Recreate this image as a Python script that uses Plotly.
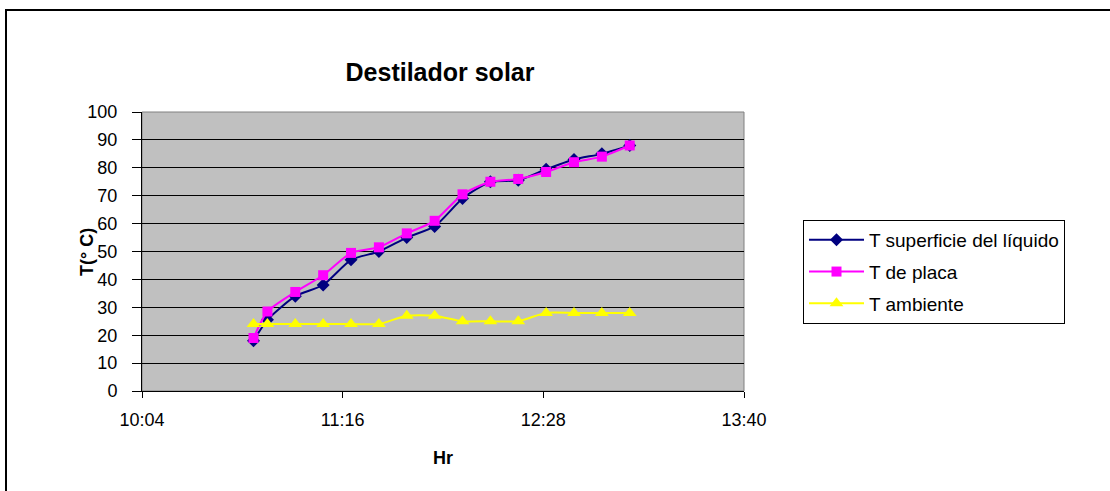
import plotly.graph_objects as go

# ---- data ----
times = ["10:44", "10:49", "10:59", "11:09", "11:19", "11:29", "11:39", "11:49",
         "11:59", "12:09", "12:19", "12:29", "12:39", "12:49", "12:59"]
t_superficie = [18, 25.5, 34, 38, 47, 50, 55, 59, 69, 75, 75.5, 79.5, 83, 85, 88]
t_placa = [19, 28.5, 35.5, 41.5, 49.5, 51.5, 56.5, 61, 70.5, 75, 76, 78.5, 82, 84, 88]
t_ambiente = [24, 24, 24, 24, 24, 24, 27, 27, 25, 25, 25, 28, 28, 28, 28]

x_range = ["10:04", "13:40"]
tick_step_min = 72

DAY = "2000-01-01 "
xs = [DAY + t for t in times]

FONT = "Liberation Sans, Arial, sans-serif"

fig = go.Figure()
series = [
    ("T superficie del líquido", t_superficie, "#000080", "diamond", 10),
    ("T de placa", t_placa, "#FF00FF", "square", 10),
    ("T ambiente", t_ambiente, "#FFFF00", "triangle-up", 12),
]
for i, (name, vals, color, sym, size) in enumerate(series):
    fig.add_trace(go.Scatter(
        x=xs, y=vals, name=name, mode="lines+markers",
        line=dict(color=color, width=2, shape="spline", smoothing=0.6),
        marker=dict(symbol=sym, size=size, color=color, line=dict(width=0)),
        legendgroup=f"g{i}",
    ))

# pixel geometry
L, R, T, B = 142, 744, 112, 391
W, H = 1110, 491
pw, ph = R - L, B - T


def px(x):
    return (x - L) / pw


def py(y):
    return (B - y) / ph


fig.update_layout(
    width=W, height=H,
    margin=dict(l=L, r=W - R, t=T, b=H - B, pad=0),
    paper_bgcolor="white",
    plot_bgcolor="#C0C0C0",
    font=dict(family=FONT, size=18, color="black"),
    title=dict(text="<b>Destilador solar</b>", x=px(440), xref="paper",
               xanchor="center", y=1 - 72 / H, yref="container", yanchor="middle",
               font=dict(family=FONT, size=25, color="black")),
    showlegend=True,
    legend=dict(x=px(803), xanchor="left", y=py(220), yanchor="top",
                bgcolor="white", bordercolor="black", borderwidth=1,
                font=dict(family=FONT, size=19, color="black"),
                tracegroupgap=4, itemwidth=55),
    xaxis=dict(
        type="date",
        range=[DAY + x_range[0], DAY + x_range[1]],
        tick0=DAY + x_range[0], dtick=tick_step_min * 60 * 1000,
        tickformat="%H:%M",
        showgrid=False, zeroline=False,
        showline=True, linecolor="black", linewidth=1,
        ticks="outside", ticklen=6, tickcolor="black", tickwidth=1,
        ticklabelstandoff=6,
        tickfont=dict(family=FONT, size=18, color="black"),
    ),
    yaxis=dict(
        range=[0, 100], dtick=10, tick0=0,
        showgrid=True, gridcolor="black", gridwidth=1,
        zeroline=False,
        showline=True, linecolor="black", linewidth=1,
        ticks="outside", ticklen=9, tickcolor="black", tickwidth=1,
        ticklabelstandoff=11,
        tickfont=dict(family=FONT, size=18, color="black"),
    ),
    annotations=[
        dict(text="<b>T(° C)</b>", xref="paper", yref="paper",
             x=px(87), y=py(252), textangle=-90, showarrow=False,
             xanchor="center", yanchor="middle",
             font=dict(family=FONT, size=18, color="black")),
        dict(text="<b>Hr</b>", xref="paper", yref="paper",
             x=px(443), y=py(458), showarrow=False,
             xanchor="center", yanchor="middle",
             font=dict(family=FONT, size=18, color="black")),
    ],
    shapes=[
        # plot area border
        dict(type="rect", xref="paper", yref="paper", x0=0, y0=0, x1=1, y1=1,
             line=dict(color="#808080", width=1), layer="below"),
        # outer chart border
        dict(type="rect", xref="paper", yref="paper",
             x0=px(6), y0=py(500), x1=px(1120), y1=py(10),
             line=dict(color="black", width=2), layer="above"),
    ],
)

fig.write_html("out.html",
               config={"displayModeBar": False},
               post_script="document.body.style.margin='0';"
                           "document.documentElement.style.margin='0';")
